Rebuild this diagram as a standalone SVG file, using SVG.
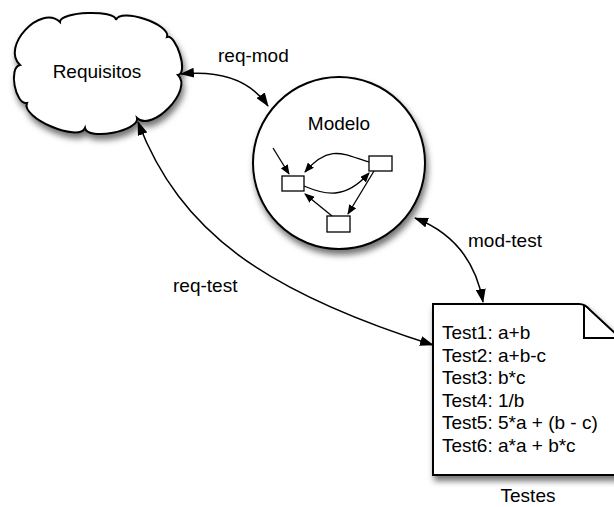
<svg xmlns="http://www.w3.org/2000/svg" width="614" height="507" viewBox="0 0 614 507">
  <defs>
    <filter id="shadow" x="-20%" y="-20%" width="150%" height="150%">
      <feDropShadow dx="2" dy="5" stdDeviation="3" flood-color="#000" flood-opacity="0.55"/>
    </filter>
    <marker id="arrow" viewBox="0 0 14 10" refX="13" refY="5" markerWidth="14" markerHeight="10" markerUnits="userSpaceOnUse" orient="auto-start-reverse">
      <path d="M0,0 L14,5 L0,10 Z" fill="#000"/>
    </marker>
    <marker id="arrow-small" viewBox="0 0 10 8" refX="9" refY="4" markerWidth="10" markerHeight="8" markerUnits="userSpaceOnUse" orient="auto">
      <path d="M0,0 L10,4 L0,8 Z" fill="#000"/>
    </marker>
  </defs>
  <style>
    .shape { fill: #fff; stroke: #000; stroke-width: 2; }
    .label { font-family: "Liberation Sans", Arial, sans-serif; font-size: 19px; fill: #000; }
    .edge { fill: none; stroke: #000; stroke-width: 1.5; }
    .inner { fill: none; stroke: #000; stroke-width: 1.3; }
    .box { fill: #fff; stroke: #000; stroke-width: 1.3; }
  </style>
  <rect width="614" height="507" fill="#fff"/>

  <!-- Requisitos: cloud built from eight lobes -->
  <g id="requisitos">
    <path class="shape" filter="url(#shadow)" d="M20,65 C0.5,46.8 40.5,3.8 60,22 C59.6,11.3 115.6,9.3 116,20 C120.2,7.4 171.2,24.4 167,37 C175.8,34 188.8,73 178,75 C193.4,89.7 152.4,132.7 137,118 C139.5,131 87.5,141 85,128 C78.7,142.7 20.7,117.7 27,103 C15.2,105.2 8.2,67.2 20,65 Z"/>
    <text class="label" x="97" y="78" text-anchor="middle">Requisitos</text>
  </g>

  <!-- Modelo: circle holding a small graph -->
  <g id="modelo">
    <circle class="shape" filter="url(#shadow)" cx="339" cy="163" r="86"/>
    <text class="label" x="339" y="130" text-anchor="middle">Modelo</text>
    <rect class="box" x="282" y="176" width="22" height="15"/>
    <rect class="box" x="369" y="156" width="23" height="15"/>
    <rect class="box" x="327" y="216" width="23" height="16"/>
    <path class="inner" marker-end="url(#arrow-small)" d="M273,148 L289,174"/>
    <path class="inner" marker-end="url(#arrow-small)" d="M369,162 C345,155 330,143 305,172"/>
    <path class="inner" marker-end="url(#arrow-small)" d="M304,186 C325,195 345,200 369,173"/>
    <path class="inner" marker-end="url(#arrow-small)" d="M374,171 L348,214"/>
    <path class="inner" marker-end="url(#arrow-small)" d="M332,216 L305,194"/>
  </g>

  <!-- Testes: folded document -->
  <g id="testes">
    <path class="shape" filter="url(#shadow)" d="M433,304 H579 Q585,304 590,310 L618,336 V475 H433 Z"/>
    <path class="shape" d="M584,306 V338 H618"/>
    <text class="label">
      <tspan x="442" y="339">Test1: a+b</tspan>
      <tspan x="442" y="362">Test2: a+b-c</tspan>
      <tspan x="442" y="384">Test3: b*c</tspan>
      <tspan x="442" y="407">Test4: 1/b</tspan>
      <tspan x="442" y="429">Test5: 5*a + (b - c)</tspan>
      <tspan x="442" y="452">Test6: a*a + b*c</tspan>
    </text>
    <text class="label" x="528" y="502" text-anchor="middle">Testes</text>
  </g>

  <!-- Connectors between the three artefacts -->
  <g id="connectors">
    <path class="edge" marker-start="url(#arrow)" marker-end="url(#arrow)" d="M181,74 Q242,68 268,106"/>
    <path class="edge" marker-start="url(#arrow)" marker-end="url(#arrow)" d="M138,122 C180,232 265,292 433,345"/>
    <path class="edge" marker-start="url(#arrow)" marker-end="url(#arrow)" d="M415,218 Q472,240 483,302"/>
    <text class="label" x="218" y="62">req-mod</text>
    <text class="label" x="468" y="247">mod-test</text>
    <text class="label" x="173" y="292">req-test</text>
  </g>
</svg>
